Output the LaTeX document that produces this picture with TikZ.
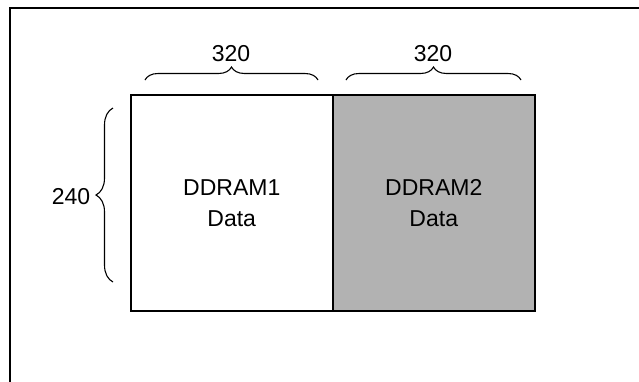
\documentclass[tikz,border=0pt]{standalone}
\usepackage{fontspec}
\setmainfont{Liberation Sans}
\usetikzlibrary{decorations.pathreplacing}
\begin{document}
\begin{tikzpicture}[x=1pt,y=-1pt,
  frame/.style={line width=1.5pt},
  memblock/.style={draw,line width=1.5pt,minimum width=202pt,minimum height=216pt,inner sep=0pt,font=\fontsize{23}{31}\selectfont,align=center},
  bracelab/.style={font=\fontsize{23}{28}\selectfont,inner sep=0pt},
  bracket/.style={line width=1.1pt,decorate,decoration={brace,amplitude=13pt}}]
\useasboundingbox (0,0) rectangle (639,381);
\begin{scope}
\clip (0,0) rectangle (639,381);
\draw[frame] (10,400) -- (10,8) -- (660,8);
\end{scope}
\node[memblock,anchor=north west] (d1) at (130,94) {DDRAM1\\Data};
\node[memblock,anchor=north west,fill=black!30] (d2) at (332,94) {DDRAM2\\Data};
\coordinate (t1a) at (145,80);
\coordinate (t1b) at (318,80);
\coordinate (t2a) at (346,80);
\coordinate (t2b) at (521,80);
\coordinate (l1a) at (113,282);
\coordinate (l1b) at (113,108);
\draw[bracket] (t1a) -- (t1b);
\draw[bracket] (t2a) -- (t2b);
\draw[bracket,decoration={amplitude=17pt}] (l1a) -- (l1b);
\node[bracelab] (w1) at (231,54) {320};
\node[bracelab] (w2) at (433,54) {320};
\node[bracelab] (h1) at (71,197) {240};
\end{tikzpicture}
\end{document}
